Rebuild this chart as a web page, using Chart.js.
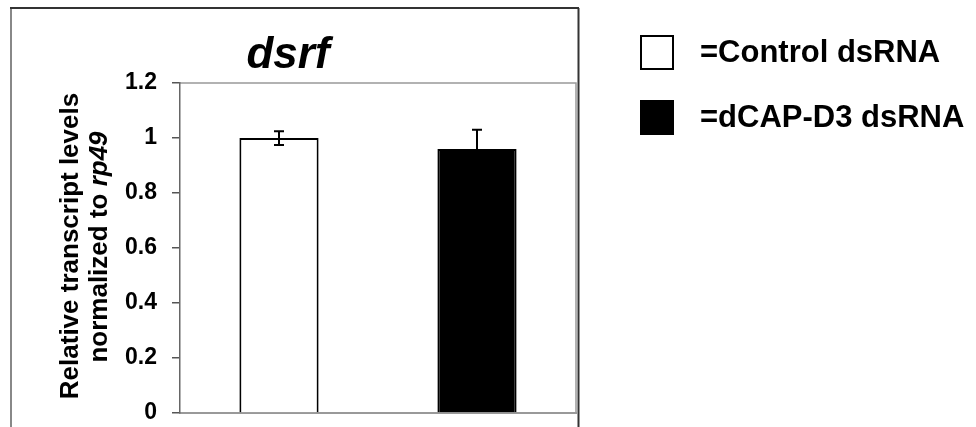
<!DOCTYPE html>
<html><head><meta charset="utf-8">
<script src="https://cdn.jsdelivr.net/npm/chart.js@4"></script>
<style>html,body{margin:0;padding:0;background:#fff}#wrap{width:976px;height:427px;position:relative}</style>
</head><body><div id="wrap"><canvas id="c" width="976" height="427"></canvas></div>
<script>
const categories = ['Control dsRNA', 'dCAP-D3 dsRNA'];
const values = [1.00, 0.96];
const errUp = [0.025, 0.07];
const errDown = [0.025, 0.07];
const yTicks = [0, 0.2, 0.4, 0.6, 0.8, 1, 1.2];
const yTickLabels = ['0', '0.2', '0.4', '0.6', '0.8', '1', '1.2'];
const legendLabels = ['=Control dsRNA', '=dCAP-D3 dsRNA'];
const fills = ['#ffffff', '#000000'];
const titleText = 'dsrf';
const yTitle1 = 'Relative transcript levels';
const yTitle2a = 'normalized to ';
const yTitle2b = 'rp49';

const FONT = '"Liberation Sans", Arial, Helvetica, sans-serif';
const YT = 26;

const decor = {
  id: 'decor',
  beforeDraw(chart) {
    const ctx = chart.ctx, a = chart.chartArea;
    ctx.save();
    ctx.fillStyle = '#fff';
    ctx.fillRect(0, 0, chart.width, chart.height);
    ctx.lineWidth = 2;
    ctx.strokeStyle = '#888';
    ctx.beginPath(); ctx.moveTo(11, 8); ctx.lineTo(11, 427); ctx.stroke();
    ctx.strokeStyle = '#333';
    ctx.beginPath(); ctx.moveTo(10, 8); ctx.lineTo(579, 8); ctx.stroke();
    ctx.beginPath(); ctx.moveTo(578.5, 8); ctx.lineTo(578.5, 427); ctx.stroke();
    ctx.strokeStyle = '#999';
    ctx.lineWidth = 1.5;
    ctx.beginPath(); ctx.moveTo(a.left, a.top); ctx.lineTo(a.right, a.top); ctx.lineTo(a.right, a.bottom); ctx.stroke();
    ctx.restore();
  },
  afterDraw(chart) {
    const ctx = chart.ctx;
    ctx.save();
    ctx.fillStyle = '#000';
    ctx.font = 'italic bold 44px ' + FONT;
    ctx.textAlign = 'center';
    ctx.textBaseline = 'alphabetic';
    ctx.fillText(titleText, 288, 68);
    ctx.save();
    ctx.translate(71, 246);
    ctx.rotate(-Math.PI / 2);
    ctx.font = 'bold ' + YT + 'px ' + FONT;
    ctx.textAlign = 'center';
    ctx.textBaseline = 'middle';
    ctx.fillText(yTitle1, 0, 0);
    ctx.restore();
    ctx.save();
    ctx.translate(100, 247);
    ctx.rotate(-Math.PI / 2);
    ctx.textBaseline = 'middle';
    ctx.textAlign = 'left';
    ctx.font = 'bold ' + YT + 'px ' + FONT;
    const w1 = ctx.measureText(yTitle2a).width;
    ctx.font = 'italic bold ' + YT + 'px ' + FONT;
    const w2 = ctx.measureText(yTitle2b).width;
    const start = -(w1 + w2) / 2;
    ctx.font = 'bold ' + YT + 'px ' + FONT;
    ctx.fillText(yTitle2a, start, 0);
    ctx.font = 'italic bold ' + YT + 'px ' + FONT;
    ctx.fillText(yTitle2b, start + w1, 0);
    ctx.restore();
    legendLabels.forEach((lab, i) => {
      const bx = 641, by = 36 + i * 65, bw = 32, bh = 33;
      ctx.fillStyle = fills[i];
      ctx.fillRect(bx, by, bw, bh);
      ctx.strokeStyle = '#000';
      ctx.lineWidth = 2;
      ctx.strokeRect(bx, by, bw, bh);
      ctx.fillStyle = '#000';
      ctx.font = 'bold 31px ' + FONT;
      ctx.textAlign = 'left';
      ctx.textBaseline = 'middle';
      ctx.fillText(lab, 700, by + bh / 2 + 1);
    });
    ctx.restore();
  },
  afterDatasetsDraw(chart) {
    const ctx = chart.ctx, ys = chart.scales.y;
    const meta = chart.getDatasetMeta(0);
    ctx.save();
    ctx.strokeStyle = '#000';
    ctx.lineWidth = 2;
    meta.data.forEach((bar, i) => {
      const x = bar.x;
      const yt = ys.getPixelForValue(values[i] + errUp[i]);
      const yb = ys.getPixelForValue(values[i] - errDown[i]);
      ctx.beginPath();
      ctx.moveTo(x, yt); ctx.lineTo(x, yb);
      ctx.moveTo(x - 5, yt); ctx.lineTo(x + 5, yt);
      ctx.moveTo(x - 5, yb); ctx.lineTo(x + 5, yb);
      ctx.stroke();
    });
    ctx.restore();
  }
};

new Chart(document.getElementById('c'), {
  type: 'bar',
  data: {
    labels: categories,
    datasets: [{
      data: values,
      backgroundColor: fills,
      borderColor: '#000',
      borderWidth: 2,
      barPercentage: 0.4,
      categoryPercentage: 1.0
    }]
  },
  options: {
    responsive: false,
    animation: false,
    devicePixelRatio: 1,
    layout: { padding: { left: 0, top: 83, right: 400, bottom: 14 } },
    plugins: { legend: { display: false }, title: { display: false }, tooltip: { enabled: false } },
    scales: {
      x: {
        grid: { display: false },
        ticks: { display: false },
        border: { display: true, color: '#999', width: 2 },
        afterFit(s) { s.height = 0; s.paddingLeft = 0; s.paddingRight = 0; }
      },
      y: {
        min: 0, max: 1.2,
        afterBuildTicks(s) { s.ticks = yTicks.map(v => ({ value: v })); },
        afterFit(s) { s.width = 180; s.paddingTop = 0; s.paddingBottom = 0; },
        ticks: {
          padding: 15,
          color: '#000',
          font: { family: FONT, size: 23, weight: 'bold' },
          callback(v, i) { return yTickLabels[i]; }
        },
        grid: { drawOnChartArea: false, tickLength: 8, color: '#555', lineWidth: 1.5 },
        border: { display: true, color: '#666', width: 1.5 }
      }
    }
  },
  plugins: [decor]
});
</script>
</body></html>
